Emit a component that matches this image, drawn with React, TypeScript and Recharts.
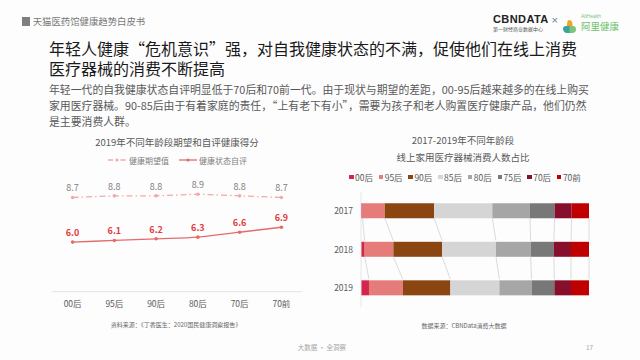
import React from 'react'
import { LineChart, Line, XAxis, YAxis, LabelList, BarChart, Bar } from 'recharts'

// left chart: 2019 health scores by age group
const ageGroups = ['00后', '95后', '90后', '80后', '70后', '70前']
const expectedScore = [8.7, 8.8, 8.8, 8.9, 8.8, 8.7]
const selfScore = [6.0, 6.1, 6.2, 6.3, 6.6, 6.9]

// right chart: share of online home medical device buyers (%)
const years = ['2017', '2018', '2019']
const cohorts = ['00后', '95后', '90后', '85后', '80后', '75后', '70后', '70前']
const cohortColors = ['#d3264f', '#e57c7a', '#8b4510', '#d5d5d5', '#a6a6a6', '#787878', '#870f2c', '#c00000']
const share2017 = [0.7, 9.7, 21.7, 25.5, 16.5, 10.8, 7.5, 7.6]
const share2018 = [1.6, 12.6, 21.4, 23.6, 15.2, 10.2, 7.5, 7.9]
const share2019 = [3.5, 14.8, 20.9, 21.5, 14.1, 10.0, 7.3, 7.9]
const shareRows = [share2017, share2018, share2019]

const lineData = ageGroups.map((name, i) => ({ name, expected: expectedScore[i], self: selfScore[i] }))

const barData = years.map((year, r) => {
  const row: Record<string, string | number> = { year }
  cohorts.forEach((c, k) => (row[c] = shareRows[r][k]))
  return row
})

const FONT = '"Noto Sans CJK SC", "Noto Sans", sans-serif'
const GAP = 0.3 // barCategoryGap on each side
const BAND_FILL = 1 - 2 * GAP
const LINE_PAD = 20.9 // half a category band, so points sit in the middle of each slot

const cum = (arr: number[], k: number) => arr.slice(0, k + 1).reduce((a, b) => a + b, 0)

// each stacked segment draws its own connector down to the same boundary on the next row
function segmentShape(k: number) {
  return (props: any) => {
    const { x, y, width, height, index, fill } = props
    const row = shareRows[index]
    let connector = null
    if (index < shareRows.length - 1 && row[k] > 0) {
      const perUnit = width / row[k]
      const x1 = x + width
      const x2 = x1 + (cum(shareRows[index + 1], k) - cum(row, k)) * perUnit
      const step = height / BAND_FILL
      connector = (
        <line x1={x1} y1={y + height} x2={x2} y2={y + step} stroke="#d2d2d2" strokeWidth={0.8} />
      )
    }
    return (
      <g>
        <rect x={x} y={y} width={width} height={height} fill={fill} />
        {connector}
      </g>
    )
  }
}

const abs = (left: number, top: number, extra: React.CSSProperties = {}): React.CSSProperties => ({
  position: 'absolute',
  left,
  top,
  whiteSpace: 'nowrap',
  ...extra,
})

function AliIcon() {
  return (
    <svg width={15} height={15} viewBox="0 0 15 15">
      <path d="M7 1 C10 1 10.5 4 10.5 6 L10.5 8 L5 8 C5 5 5 1 7 1 Z" fill="#f2a324" />
      <path d="M1 9.5 C1 7.5 3 7 5 7 L8 7 L8 14 L5 14 C2.5 14 1 12 1 9.5 Z" fill="#3aa39f" />
      <path d="M7.5 7 L11 7 C13 7 14 8.5 14 10.5 C14 12.5 12.5 14 10.5 14 L7.5 14 Z" fill="#7cc576" />
    </svg>
  )
}

export default function App() {
  return (
    <div
      style={{
        position: 'absolute',
        left: 0,
        top: 0,
        width: 640,
        height: 360,
        background: '#fdfdfe',
        overflow: 'hidden',
        fontFamily: FONT,
      }}
    >
      {/* header */}
      <div style={abs(21.7, 17.3, { width: 8.5, height: 8.5, background: '#7f7f7f' })} />
      <div style={abs(32.7, 16, { fontSize: 9.4, lineHeight: '11px', color: '#777' })}>天猫医药馆健康趋势白皮书</div>

      {/* logos */}
      <div style={abs(493, 13, { fontFamily: '"Liberation Sans", Arial, sans-serif', fontWeight: 700, fontSize: 11, lineHeight: '12px', color: '#222', letterSpacing: 0.4 })}>
        CBNDATA
      </div>
      <div style={abs(493, 26, { fontSize: 5, lineHeight: '6px', color: '#555' })}>第一财经商业数据中心</div>
      <div style={abs(551, 15, { fontSize: 9, lineHeight: '11px', color: '#777', fontFamily: '"DejaVu Sans", sans-serif' })}>×</div>
      <div style={abs(561.7, 15)}>
        <AliIcon />
      </div>
      <div style={abs(581, 12.5, { fontSize: 5, lineHeight: '6px', color: '#7cc576', fontFamily: '"Liberation Sans", sans-serif' })}>AliHealth</div>
      <div style={abs(581, 20.5, { fontSize: 9.5, lineHeight: '11px', color: '#6abf69' })}>阿里健康</div>

      {/* headline and body */}
      <div style={abs(49, 39.3, { fontSize: 16, lineHeight: '19.5px', color: '#1a1a1a', fontWeight: 400 })}>
        年轻人健康“危机意识”强，对自我健康状态的不满，促使他们在线上消费
        <br />
        医疗器械的消费不断提高
      </div>
      <div style={abs(49, 80.5, { fontSize: 10.85, lineHeight: '16px', color: '#595959' })}>
        年轻一代的自我健康状态自评明显低于70后和70前一代。由于现状与期望的差距，00-95后越来越多的在线上购买
        <br />
        家用医疗器械。90-85后由于有着家庭的责任，“上有老下有小”，需要为孩子和老人购置医疗健康产品，他们仍然
        <br />
        是主要消费人群。
      </div>

      {/* left chart */}
      <div style={abs(0, 136, { width: 354, textAlign: 'center', fontSize: 9.5, lineHeight: '12px', color: '#595959' })}>
        2019年不同年龄段期望和自评健康得分
      </div>
      <div style={abs(108, 154.5, { display: 'flex', alignItems: 'center', fontSize: 8, lineHeight: '11px', color: '#7f7f7f' })}>
        <svg width={18} height={6} style={{ marginRight: 3 }}>
          <line x1={0} y1={3} x2={18} y2={3} stroke="#f3a9a9" strokeWidth={1.3} strokeDasharray="5 3 1.5 3" />
          <circle cx={9} cy={3} r={1.6} fill="#f3a9a9" />
        </svg>
        <span>健康期望值</span>
        <svg width={18} height={6} style={{ marginLeft: 10, marginRight: 2 }}>
          <line x1={0} y1={3} x2={18} y2={3} stroke="#e56b6b" strokeWidth={1.3} />
          <circle cx={9} cy={3} r={1.6} fill="#e56b6b" />
        </svg>
        <span>健康状态自评</span>
      </div>
      <div style={abs(0, 170)}>
        <LineChart width={320} height={140} data={lineData} margin={{ top: 2.7, right: 17.7, left: 51.7, bottom: 0 }}>
          <XAxis
            dataKey="name"
            height={18.3}
            interval={0}
            padding={{ left: LINE_PAD, right: LINE_PAD }}
            axisLine={{ stroke: '#e3e3e3' }}
            tickLine={false}
            tickMargin={3}
            tick={{ fontSize: 8.5, fill: '#595959', fontFamily: FONT }}
          />
          <YAxis hide domain={[3, 10.2]} />
          <Line
            dataKey="expected"
            stroke="#f3a9a9"
            strokeWidth={1.3}
            strokeDasharray="6 3 1.5 3"
            dot={{ r: 1.8, fill: '#f3a9a9', stroke: 'none' }}
            isAnimationActive={false}
          >
            <LabelList dataKey="expected" position="top" offset={6} fontSize={9} fill="#808080" fontFamily={FONT} formatter={(v: any) => Number(v).toFixed(1)} />
          </Line>
          <Line
            type="monotone"
            dataKey="self"
            stroke="#e56b6b"
            strokeWidth={1.3}
            dot={{ r: 1.8, fill: '#e56b6b', stroke: 'none' }}
            isAnimationActive={false}
          >
            <LabelList dataKey="self" position="top" offset={6} fontSize={9} fontWeight={700} fill="#e23b3b" fontFamily={FONT} formatter={(v: any) => Number(v).toFixed(1)} />
          </Line>
        </LineChart>
      </div>
      <div style={abs(0, 320.5, { width: 352, textAlign: 'center', fontSize: 6, lineHeight: '7px', color: '#666' })}>
        资料来源：《丁香医生：2020国民健康洞察报告》
      </div>

      {/* right chart */}
      <div style={abs(320, 131.9, { width: 286, textAlign: 'center', fontSize: 9.5, lineHeight: '17.6px', color: '#595959' })}>
        2017-2019年不同年龄段
        <br />
        线上家用医疗器械消费人数占比
      </div>
      {cohorts.map((c, k) => (
        <div key={c} style={abs(349 + k * 29.7, 172, { display: 'flex', alignItems: 'center', fontSize: 8.5, lineHeight: '10px', color: '#595959' })}>
          <span style={{ width: 4.5, height: 4.5, background: cohortColors[k], marginRight: 1.5 }} />
          <span>{c}</span>
        </div>
      ))}
      <div style={abs(320, 185)}>
        <BarChart
          layout="vertical"
          width={320}
          height={125}
          data={barData}
          margin={{ top: 6.7, right: 51, bottom: 2.7, left: 0 }}
          barCategoryGap={`${GAP * 100}%`}
        >
          <XAxis type="number" domain={[0, 100]} hide />
          <YAxis
            type="category"
            dataKey="year"
            width={41}
            axisLine={{ stroke: '#e6e6e6' }}
            tickLine={false}
            tick={{ fontSize: 8.5, fill: '#595959', fontFamily: FONT }}
          />
          {cohorts.map((c, k) => (
            <Bar key={c} dataKey={c} stackId="s" fill={cohortColors[k]} isAnimationActive={false} shape={segmentShape(k)} />
          ))}
        </BarChart>
      </div>
      <div style={abs(320, 321.5, { width: 288, textAlign: 'center', fontSize: 6, lineHeight: '7px', color: '#666' })}>
        数据来源：CBNData消费大数据
      </div>

      {/* footer */}
      <div style={abs(297.7, 343, { fontSize: 6.5, lineHeight: '8px', color: '#a6a6a6' })}>大数据 · 全洞察</div>
      <div style={abs(586, 343, { fontSize: 6.5, lineHeight: '8px', color: '#a6a6a6' })}>17</div>
    </div>
  )
}
